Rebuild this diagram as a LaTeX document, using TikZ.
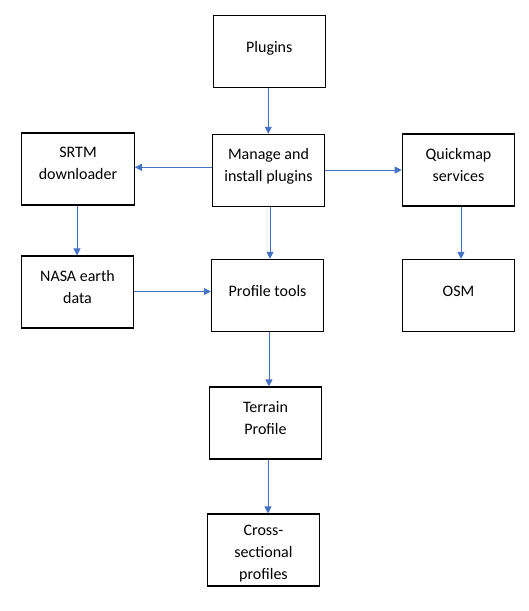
\documentclass[tikz,border=0pt]{standalone}
\usepackage{fontspec}
\setmainfont{Carlito}
\usetikzlibrary{arrows.meta}
\definecolor{arrblue}{HTML}{4472C4}
\begin{document}
\begin{tikzpicture}[x=1pt,y=-1pt,
  box/.style={draw=black,line width=1.1pt,rectangle,inner sep=0pt,minimum width=112.5pt,minimum height=72pt},
  lbl/.style={font=\fontsize{16}{22}\selectfont,align=center,inner sep=0pt,anchor=north,execute at begin node=\strut},
  arr/.style={draw=arrblue,line width=1pt,-{Triangle[length=7pt,width=7pt]}}]
\useasboundingbox (0,0) rectangle (529,611);
% boxes
\node[box] (plug)  at (269.3,51.3) {};
\node[box] (man)   at (268.5,170.3) {};
\node[box] (srtm)  at (78,169) {};
\node[box] (quick) at (458.5,170) {};
\node[box] (nasa)  at (77.5,292) {};
\node[box] (prof)  at (267.6,295.3) {};
\node[box] (osm)   at (458.5,295.5) {};
\node[box] (terr)  at (265.5,423) {};
\node[box] (cross) at (263.5,550) {};
% labels
\node[lbl] (plugt)  at ([yshift=-22.3pt]plug.north) {Plugins};
\node[lbl] (mant)   at ([yshift=-14.4pt]man.north) {Manage and\\install plugins};
\node[lbl] (srtmt)  at ([yshift=-14.4pt]srtm.north) {SRTM\\downloader};
\node[lbl] (quickt) at ([yshift=-14.4pt]quick.north) {Quickmap\\services};
\node[lbl] (nasat)  at ([yshift=-14.4pt]nasa.north) {NASA earth\\data};
\node[lbl] (proft)  at ([yshift=-22.3pt]prof.north) {Profile tools};
\node[lbl] (osmt)   at ([yshift=-22.3pt]osm.north) {OSM};
\node[lbl] (terrt)  at ([yshift=-14.4pt]terr.north) {Terrain\\Profile};
\node[lbl] (crosst) at ([yshift=-11.4pt]cross.north) {Cross-\\sectional\\profiles};
% connector guide coordinates
\coordinate (c1) at (268.3,0);
\coordinate (c2) at (0,167.3);
\coordinate (c3) at (0,170);
\coordinate (c4) at (270,0);
\coordinate (c5) at (77,0);
\coordinate (c6) at (461,0);
\coordinate (c7) at (0,291.5);
\coordinate (c8) at (269,0);
\coordinate (c9) at (268,0);
% connectors
\draw[arr] (c1 |- plug.south) -- (c1 |- man.north);
\draw[arr] (man.west |- c2) -- (srtm.east |- c2);
\draw[arr] (man.east |- c3) -- (quick.west |- c3);
\draw[arr] (c4 |- man.south) -- (c4 |- prof.north);
\draw[arr] (c5 |- srtm.south) -- (c5 |- nasa.north);
\draw[arr] (c6 |- quick.south) -- (c6 |- osm.north);
\draw[arr] (nasa.east |- c7) -- (prof.west |- c7);
\draw[arr] (c8 |- prof.south) -- (c8 |- terr.north);
\draw[arr] (c9 |- terr.south) -- (c9 |- cross.north);
\end{tikzpicture}
\end{document}
